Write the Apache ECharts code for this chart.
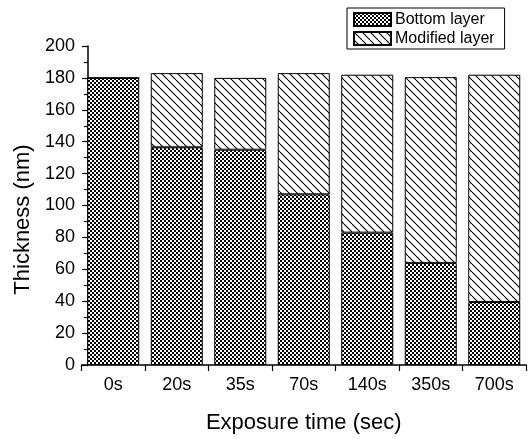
<!DOCTYPE html>
<html>
<head>
<meta charset="utf-8">
<script src="https://cdn.jsdelivr.net/npm/echarts@6/dist/echarts.min.js"></script>
<style>html,body{margin:0;padding:0;background:#fff;}#c{width:529px;height:439px;}</style>
</head>
<body>
<div id="c"></div>
<script>
var categories = ['0s', '20s', '35s', '70s', '140s', '350s', '700s'];
var bottomLayer = [180, 136.5, 135, 107, 83, 64, 39.5];
var modifiedLayer = [0, 46.5, 45, 76, 99, 116.5, 142.5];
var yTicks = [0, 20, 40, 60, 80, 100, 120, 140, 160, 180, 200];

function checker() {
  var c = document.createElement('canvas'); c.width = 4; c.height = 4;
  var g = c.getContext('2d');
  g.fillStyle = '#fff'; g.fillRect(0, 0, 4, 4);
  g.fillStyle = '#000';
  g.fillRect(0, 0, 2, 2); g.fillRect(2, 2, 2, 2);
  return c;
}
function hatch() {
  var s = 8;
  var c = document.createElement('canvas'); c.width = s; c.height = s;
  var g = c.getContext('2d');
  g.fillStyle = '#fff'; g.fillRect(0, 0, s, s);
  g.strokeStyle = '#000'; g.lineWidth = 1.1;
  for (var o = -s; o <= s; o += s) {
    g.beginPath(); g.moveTo(o, 0); g.lineTo(o + s, s); g.stroke();
  }
  return c;
}
var pBottom = { image: checker(), repeat: 'repeat' };
var pMod = { image: hatch(), repeat: 'repeat' };

var chart = echarts.init(document.getElementById('c'));
var font = 'Liberation Sans, Arial, sans-serif';
chart.setOption({
  animation: false,
  backgroundColor: '#fff',
  textStyle: { fontFamily: font },
  legend: {
    orient: 'vertical', left: 347, top: 8,
    borderColor: '#000', borderWidth: 1, borderRadius: 0,
    padding: [3.5, 10, 2.5, 6], itemGap: 3, itemWidth: 37, itemHeight: 13,
    textStyle: { fontSize: 16, lineHeight: 16, color: '#000', fontFamily: font, padding: [0, 0, 0, -1] },
    data: [
      { name: 'Bottom layer', icon: 'rect' },
      { name: 'Modified layer', icon: 'rect' }
    ]
  },
  grid: { left: 81.5, right: 3, top: 46, bottom: 68 },
  xAxis: {
    type: 'category', data: categories,
    name: 'Exposure time (sec)', nameLocation: 'middle', nameGap: 47,
    nameTextStyle: { fontSize: 22, color: '#000', fontFamily: font },
    axisLine: { lineStyle: { color: '#000', width: 1.5 } },
    axisTick: { show: true, length: 6, alignWithLabel: false, lineStyle: { color: '#000', width: 1.2 } },
    axisLabel: { fontSize: 18, color: '#000', margin: 11, fontFamily: font }
  },
  yAxis: {
    type: 'value', min: yTicks[0], max: yTicks[yTicks.length - 1], interval: yTicks[1] - yTicks[0],
    offset: -6.5,
    name: 'Thickness (nm)', nameLocation: 'middle', nameGap: 54,
    nameTextStyle: { fontSize: 22, color: '#000', fontFamily: font, padding: [0, 28, 0, 0] },
    splitLine: { show: false },
    axisLine: { show: true, lineStyle: { color: '#000', width: 1.5 } },
    axisTick: { show: true, length: 6, lineStyle: { color: '#000', width: 1.2 } },
    minorTick: { show: true, splitNumber: 2, length: 4, lineStyle: { color: '#000', width: 1.2 } },
    axisLabel: { fontSize: 18, color: '#000', margin: 13, fontFamily: font }
  },
  series: [
    {
      name: 'Bottom layer', type: 'bar', stack: 't', data: bottomLayer, barWidth: 52,
      itemStyle: { color: pBottom, borderColor: '#000', borderWidth: 1 }
    },
    {
      name: 'Modified layer', type: 'bar', stack: 't', data: modifiedLayer, barWidth: 52,
      itemStyle: { color: pMod, borderColor: '#000', borderWidth: 1 }
    }
  ]
});
</script>
</body>
</html>
